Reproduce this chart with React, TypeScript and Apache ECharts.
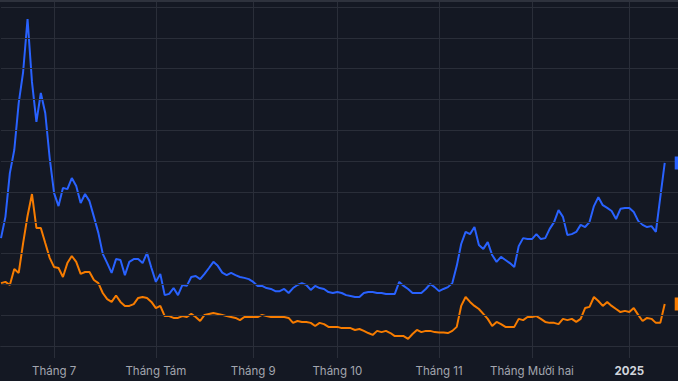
import React, { useEffect, useRef } from "react";
import * as echarts from "echarts";

// Trading-day series (index 0 = mid June 2024, last = mid Jan 2025)
const blueValues = [
  35.0, 41.9, 56.1, 63.6, 78.8, 88.9, 106.1, 85.7, 72.7, 82.1,
  75.6, 61.0, 49.6, 45.4, 51.3, 50.9, 54.5, 51.9, 46.4, 49.3,
  47.0, 41.9, 36.7, 29.9, 26.9, 23.7, 28.2, 27.9, 23.0, 27.3,
  28.2, 28.2, 26.9, 30.2, 25.3, 20.8, 23.4, 16.5, 16.9, 18.8,
  16.5, 19.8, 19.5, 22.4, 22.7, 21.7, 23.4, 25.3, 27.3, 26.0,
  23.8, 23.0, 23.7, 23.0, 22.4, 22.1, 21.7, 20.8, 19.5, 19.5,
  18.8, 18.5, 17.8, 17.8, 18.5, 17.2, 18.8, 19.8, 20.4, 19.8,
  18.2, 19.5, 18.8, 18.5, 17.5, 17.2, 17.5, 17.2, 16.5, 16.2,
  15.9, 15.9, 17.2, 17.5, 17.5, 17.2, 17.2, 16.9, 16.9, 16.9,
  20.8, 19.5, 18.5, 17.2, 17.2, 17.2, 18.5, 20.1, 19.1, 17.8,
  18.5, 19.1, 20.4, 26.0, 33.1, 37.0, 36.3, 38.6, 32.8, 31.5,
  33.7, 29.5, 27.3, 28.9, 27.9, 26.9, 25.6, 32.4, 35.0, 34.7,
  34.7, 36.3, 34.7, 35.0, 38.0, 40.2, 44.1, 41.9, 36.0, 36.3,
  37.0, 39.3, 38.6, 40.2, 45.4, 48.3, 45.7, 44.8, 43.8, 41.2,
  44.5, 44.8, 44.8, 43.5, 40.6, 39.3, 38.6, 38.9, 37.0, 48.3,
  59.4,
];

const orangeValues = [
  20.4, 20.8, 19.8, 25.0, 23.7, 33.4, 42.2, 49.3, 38.3, 38.3,
  33.4, 28.6, 25.6, 25.3, 22.4, 26.9, 29.2, 27.3, 23.4, 24.0,
  24.0, 21.4, 20.4, 17.2, 15.2, 14.3, 16.4, 14.3, 13.0, 13.0,
  13.6, 15.6, 15.9, 15.6, 14.3, 12.3, 13.0, 9.7, 9.7, 9.1,
  9.1, 9.7, 9.4, 10.4, 9.4, 8.1, 10.1, 10.4, 10.7, 10.4,
  10.1, 9.7, 9.4, 9.1, 8.4, 9.4, 9.4, 9.4, 9.4, 10.1,
  9.7, 9.4, 9.4, 9.4, 9.4, 9.1, 7.5, 8.1, 7.8, 7.8,
  7.5, 6.5, 7.5, 7.1, 6.2, 6.2, 6.2, 5.8, 5.8, 5.8,
  5.2, 5.5, 4.9, 4.2, 3.6, 4.9, 4.5, 4.9, 4.2, 3.2,
  3.2, 3.2, 2.3, 3.9, 5.2, 4.5, 4.9, 4.9, 4.5, 4.4,
  4.4, 4.2, 4.9, 6.2, 13.0, 15.9, 14.3, 13.0, 12.0, 10.4,
  8.8, 6.5, 7.8, 7.1, 6.2, 6.2, 6.2, 8.8, 8.4, 9.4,
  9.4, 9.7, 8.8, 7.8, 7.5, 7.5, 7.1, 8.8, 8.4, 8.8,
  7.8, 8.8, 12.3, 12.7, 15.9, 14.6, 13.0, 14.3, 13.0, 12.0,
  11.0, 11.4, 11.0, 12.3, 10.1, 8.1, 9.1, 8.8, 7.5, 7.5,
  13.6,
];

const tickLabels = ["Tháng 7", "Tháng Tám", "Tháng 9", "Tháng 10", "Tháng 11", "Tháng Mười hai", "2025"];
const tickIndex = [12, 35, 57, 76, 99, 120, 142];
const gridValues = [0, 10, 20, 30, 40, 50, 60, 70, 80, 90, 100, 110];
const totalSlots = 154;
const categories = Array.from({ length: totalSlots }, (_, i) => String(i));

const BG = "#141823";
const GRID = "#2a2e39";
const BLUE = "#2962ff";
const ORANGE = "#f77c00";

function lastMarker(values: number[], color: string) {
  const i = values.length - 1;
  return {
    silent: true,
    symbol: "rect",
    symbolSize: [40, 13],
    symbolOffset: [30, 0],
    itemStyle: { color },
    label: { show: false },
    data: [{ coord: [String(i), values[i]] }],
  };
}

export default function App() {
  const ref = useRef<HTMLDivElement>(null);
  useEffect(() => {
    if (!ref.current) return;
    const chart = echarts.init(ref.current, undefined, { renderer: "svg" });
    const lastB = blueValues.length - 1;
    const blueData = blueValues.map((v, i) =>
      i === lastB ? { value: v, symbol: "circle", symbolSize: 5 } : v
    );
    chart.setOption({
      animation: false,
      backgroundColor: BG,
      grid: { left: 1, right: 0, top: 1, bottom: 23, containLabel: false },
      graphic: [
        { type: "rect", left: 0, top: 0, shape: { width: 678, height: 2 }, style: { fill: "#2e323d" }, z: 10 },
      ],
      xAxis: {
        type: "category",
        data: categories,
        boundaryGap: false,
        axisLine: { show: true, lineStyle: { color: "#3a3e49", width: 1 } },
        axisTick: { show: false },
        splitLine: {
          show: true,
          interval: (idx: number) => tickIndex.includes(idx),
          lineStyle: { color: GRID, width: 1 },
        },
        axisLabel: {
          interval: (idx: number) => tickIndex.includes(idx),
          formatter: (_v: string, idx: number) => {
            const k = tickIndex.indexOf(idx);
            if (k < 0) return "";
            return k === tickLabels.length - 1 ? "{b|" + tickLabels[k] + "}" : tickLabels[k];
          },
          color: "#a3a6af",
          fontFamily: "Inter, Roboto, sans-serif",
          fontSize: 11.5,
          margin: 7,
          rich: {
            b: { color: "#d1d4dc", fontWeight: "bold", fontSize: 11.5, fontFamily: "Inter, Roboto, sans-serif" },
          },
        },
      },
      yAxis: {
        type: "value",
        min: -3.9,
        max: 111.95,
        axisLine: { show: false },
        axisTick: { show: false },
        axisLabel: { show: false },
        splitLine: { show: false },
      },
      series: [
        {
          type: "line",
          data: [],
          silent: true,
          z: 1,
          markLine: {
            silent: true,
            symbol: "none",
            label: { show: false },
            lineStyle: { color: GRID, type: "solid", width: 1 },
            data: gridValues.map((v) => ({ yAxis: v })),
          },
        },
        {
          name: "orange",
          type: "line",
          data: orangeValues,
          showSymbol: false,
          symbol: "none",
          z: 3,
          lineStyle: { color: ORANGE, width: 2 },
          itemStyle: { color: ORANGE },
          markPoint: lastMarker(orangeValues, ORANGE),
        },
        {
          name: "blue",
          type: "line",
          data: blueData,
          showSymbol: true,
          symbol: "none",
          z: 4,
          lineStyle: { color: BLUE, width: 2 },
          itemStyle: { color: BLUE },
          markPoint: lastMarker(blueValues, BLUE),
        },
      ],
    });
    return () => chart.dispose();
  }, []);
  return (
    <div
      ref={ref}
      style={{ position: "fixed", left: 0, top: 0, width: 678, height: 381 }}
    />
  );
}
